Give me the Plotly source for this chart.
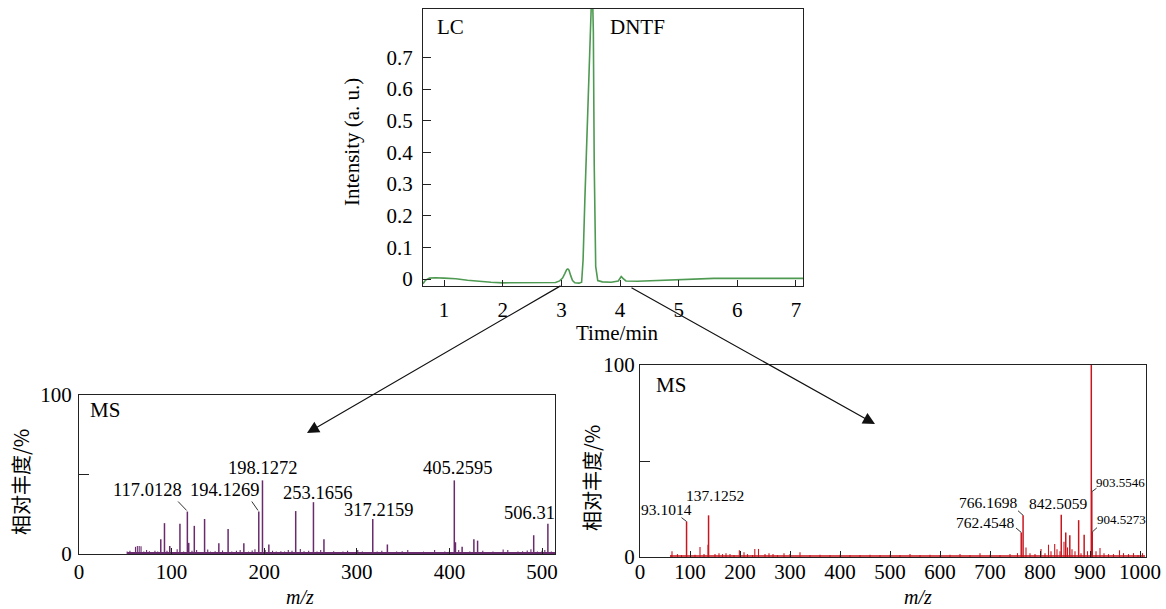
import plotly.graph_objects as go

# ---------------- data ----------------
lc_time = [0.64, 0.68, 0.75, 0.85, 1.0, 1.2, 1.4, 1.6, 1.8, 2.0, 2.2, 2.4, 2.6, 2.8, 2.9, 2.97,
           3.02, 3.06, 3.09, 3.11, 3.13, 3.16, 3.19, 3.23, 3.3, 3.345, 3.37, 3.40, 3.46, 3.505,
           3.525, 3.545, 3.56, 3.585, 3.62, 3.7, 3.85, 3.97, 4.0, 4.02, 4.05, 4.1, 4.3, 4.6,
           5.0, 5.3, 5.6, 6.0, 6.5, 7.0, 7.12]
lc_int = [-0.015, -0.004, 0.003, 0.004, 0.003, 0.001, -0.004, -0.008, -0.010, -0.012, -0.012,
          -0.013, -0.013, -0.013, -0.011, -0.006, 0.003, 0.018, 0.030, 0.032, 0.028, 0.010,
          -0.005, -0.012, -0.013, -0.010, 0.061, 0.25, 0.57, 0.82, 0.95, 0.78, 0.36, 0.04,
          -0.005, -0.009, -0.010, -0.006, 0.004, 0.008, 0.002, -0.006, -0.007, -0.005, -0.002,
          0.001, 0.002, 0.002, 0.002, 0.002, 0.002]
lc_yticks = [0, 0.1, 0.2, 0.3, 0.4, 0.5, 0.6, 0.7]
lc_xticks = [1, 2, 3, 4, 5, 6, 7]

ms1_mz = [88.3, 92.3, 98, 109, 117.0128, 118.5, 124.5, 135.6, 151, 161, 178, 194.1269, 198.1272,
          205, 234, 253.1656, 264.5, 317.2159, 333, 405.2595, 406.5, 413.7, 426.4, 430.4, 491,
          506.31]
ms1_int = [9.3, 19.4, 5, 19, 26.7, 7, 17.7, 22, 6.7, 15.8, 6.7, 26.7, 46.3, 6, 27, 32.6, 9.3,
           22, 6, 46.3, 7.4, 4.6, 9.3, 8.4, 11.8, 19]
ms1_noise = [(52, 1.5), (55, 2), (58, 1.2), (61, 4.5), (63, 5), (65, 5), (67, 4.8), (70, 1.5),
             (73, 2.5), (76, 1.8), (79, 1), (82, 2), (85, 1.5), (95, 2), (103, 1.2), (106, 3),
             (113, 1.5), (122, 2), (127, 2.5), (130, 1.2), (139, 2.8), (142, 1.5), (147, 1.8),
             (155, 2.2), (158, 1), (165, 1.5), (170, 2), (174, 2.5), (183, 1.5), (187, 2.2),
             (190, 3), (201, 2.5), (209, 2), (213, 1.5), (218, 1.8), (222, 1.5), (226, 2.5),
             (230, 2), (239, 3.2), (243, 1.8), (248, 2), (257, 1.5), (261, 2.5), (270, 1.2),
             (275, 1.8), (280, 1.2), (285, 1.5), (290, 2), (296, 1.2), (301, 2.5), (306, 1.5),
             (311, 1.2), (322, 1.5), (327, 2), (338, 1.2), (343, 1.5), (349, 1.8), (355, 2.5),
             (360, 1.2), (366, 1), (372, 1.5), (378, 1.2), (384, 2.5), (390, 1.2), (395, 1.5),
             (400, 1.8), (410, 2.5), (418, 1.2), (422, 1.5), (436, 2), (441, 1.2), (447, 1.5),
             (452, 1.2), (458, 2.8), (463, 2.5), (468, 1.2), (474, 1.5), (479, 1.8), (484, 2.2),
             (488, 3), (495, 1.5), (500, 2), (503, 2.5), (510, 1.5)]
ms1_xticks = [0, 100, 200, 300, 400, 500]

ms2_mz = [93.1014, 137.1252, 762.4548, 766.1698, 842.5059, 851.5, 859.6, 877.3, 888.3,
          902.5713, 903.5546, 904.5273]
ms2_int = [18.5, 21.7, 12.8, 21.7, 22, 12.8, 11.3, 19.2, 11.6, 100, 34, 13]
ms2_noise = [(62, 1), (64, 3), (75, 1.5), (83, 1), (110, 1.2), (120, 5.2), (128, 1.5), (136, 6.4),
             (150, 1.5), (158, 2), (165, 1.5), (172, 2), (180, 1.5), (188, 1), (198.7, 3.5),
             (208, 2.5), (215, 1.5), (225, 1), (229.6, 4.2), (237, 4.2), (250, 1.5), (258, 2),
             (266, 1.5), (275, 1), (288, 2), (300, 1.5), (320, 2.5), (340, 1), (360, 1.2),
             (380, 1), (400, 1.2), (420, 1), (440, 1), (460, 1.2), (480, 1), (500, 1.2),
             (520, 1), (540, 1.5), (560, 1), (580, 1.2), (600, 1), (620, 1.2), (640, 1.5),
             (660, 1), (680, 2), (700, 1.2), (720, 1), (740, 1.5), (755, 2), (772, 5),
             (780, 2), (790, 1.5), (802, 4.2), (810, 2), (817, 6.4), (822, 3), (829.4, 6.8),
             (834, 4), (840, 3), (848, 8), (855, 5), (864, 4), (870, 3), (882, 2), (895, 3),
             (912, 3), (920, 4.7), (928, 2), (937, 1.5), (947, 1.5), (959, 3.5), (967, 2),
             (977, 1.5), (987, 2), (996, 1), (1005, 2)]
ms_xticks2 = [0, 100, 200, 300, 400, 500, 600, 700, 800, 900, 1000]
ms_yticks = [0, 50, 100]
ms_yticktext = ["0", "", "100"]

# ---------------- style ----------------
W, H = 1166, 609
SERIF = "Liberation Serif, Times New Roman, serif"
CJK = "Noto Sans CJK SC"
AX = "#222222"
GREEN = "#4f9a52"
PURPLE = "#6a2b6e"
RED = "#c8161e"


def px(x):
    return x / W


def py(y):
    return 1 - y / H


def sticks(mz, inten):
    xs, ys = [], []
    for m, i in zip(mz, inten):
        xs += [m, m, None]
        ys += [0, i, None]
    return xs, ys


fig = go.Figure()

fig.add_trace(go.Scatter(x=lc_time, y=lc_int, mode="lines", line=dict(color=GREEN, width=1.6),
                         xaxis="x", yaxis="y", hoverinfo="skip"))

n1x = [p[0] for p in ms1_noise]
n1y = [p[1] for p in ms1_noise]
sx, sy = sticks(n1x, n1y)
fig.add_trace(go.Scatter(x=sx, y=sy, mode="lines", line=dict(color=PURPLE, width=1.1),
                         xaxis="x2", yaxis="y2"))
fig.add_trace(go.Scatter(x=[n1x[0], n1x[-1] + 4], y=[0.6, 0.6], mode="lines",
                         line=dict(color=PURPLE, width=2.2), xaxis="x2", yaxis="y2"))
sx, sy = sticks(ms1_mz, ms1_int)
fig.add_trace(go.Scatter(x=sx, y=sy, mode="lines", line=dict(color=PURPLE, width=1.5),
                         xaxis="x2", yaxis="y2"))

n2x = [p[0] for p in ms2_noise]
n2y = [p[1] for p in ms2_noise]
sx, sy = sticks(n2x, n2y)
fig.add_trace(go.Scatter(x=sx, y=sy, mode="lines", line=dict(color=RED, width=1.1),
                         xaxis="x3", yaxis="y3"))
fig.add_trace(go.Scatter(x=[60, 1010], y=[0.5, 0.5], mode="lines",
                         line=dict(color=RED, width=1.5), xaxis="x3", yaxis="y3"))
sx, sy = sticks(ms2_mz, ms2_int)
fig.add_trace(go.Scatter(x=sx, y=sy, mode="lines", line=dict(color=RED, width=1.5),
                         xaxis="x3", yaxis="y3"))

axis_common = dict(showline=True, mirror=True, linecolor=AX, linewidth=1, ticks="inside",
                   tickcolor=AX, tickwidth=1, showgrid=False, zeroline=False, automargin=False,
                   tickfont=dict(family=SERIF, size=21, color="black"))

fig.update_layout(
    template="none",
    width=W, height=H, autosize=False, margin=dict(l=0, r=0, t=0, b=0, pad=0),
    paper_bgcolor="white", plot_bgcolor="white", showlegend=False,
    xaxis=dict(domain=[px(423), px(803)], range=[0.64, 7.12], tickvals=lc_xticks, ticklen=6,
               ticklabelstandoff=5, anchor="y", **axis_common),
    yaxis=dict(domain=[py(286), py(9)], range=[-0.022, 0.853], tickvals=lc_yticks,
               ticktext=["0" if v == 0 else f"{v:.1f}" for v in lc_yticks], ticklen=8,
               ticklabelstandoff=5, anchor="x", **axis_common),
    xaxis2=dict(domain=[px(79), px(555)], range=[0, 514], tickvals=ms1_xticks, ticklen=6,
                ticklabelstandoff=-1, anchor="y2", **axis_common),
    yaxis2=dict(domain=[py(554), py(395)], range=[0, 100], tickvals=ms_yticks,
                ticktext=ms_yticktext, ticklen=10, ticklabelstandoff=2, anchor="x2",
                **axis_common),
    xaxis3=dict(domain=[px(640), px(1146)], range=[0, 1012], tickvals=ms_xticks2, ticklen=6,
                ticklabelstandoff=-4, anchor="y3", **axis_common),
    yaxis3=dict(domain=[py(557), py(365)], range=[0, 100], tickvals=ms_yticks,
                ticktext=ms_yticktext, ticklen=10, anchor="x3", **axis_common),
)

ann = []


def txt(text, x, y, xref="paper", yref="paper", size=21, family=SERIF, xanchor="center",
        yanchor="middle", angle=0, italic=False):
    ann.append(dict(text=f"<i>{text}</i>" if italic else text, x=x, y=y, xref=xref, yref=yref,
                    showarrow=False, xanchor=xanchor, yanchor=yanchor, textangle=angle,
                    font=dict(family=family, size=size, color="black")))


# axis titles & panel tags
txt("Intensity (a. u.)", px(352), py(142), angle=-90)
txt("Time/min", px(617), py(333))
txt("相对丰度/%", px(20), py(482), family=CJK, size=20, angle=-90)
txt("相对丰度/%", px(591), py(478), family=CJK, size=20, angle=-90)
txt("m/z", px(300), py(597), size=20, italic=True)
txt("m/z", px(918), py(597), size=20, italic=True)
txt("LC", px(435), py(27), xanchor="left")
txt("DNTF", px(608), py(27), xanchor="left")
txt("MS", px(88), py(410), xanchor="left")
txt("MS", px(654), py(385), xanchor="left")

# peak labels, left MS
for t, x, y in [("117.0128", 73.6, 40.4), ("194.1269", 156.7, 40.4), ("198.1272", 197.7, 54),
                ("253.1656", 257, 38.3), ("317.2159", 323.8, 27.8), ("405.2595", 409, 54),
                ("506.31", 486, 25.7)]:
    txt(t, x, y, xref="x2", yref="y2", size=18.5)

# peak labels, right MS
for t, x, y, s, xa in [("902.5713", 910, 104.3, 15.5, "center"), ("903.5546", 908, 38.8, 13, "left"),
                       ("904.5273", 909, 19.4, 13, "left"), ("93.1014", 53, 25, 15.5, "center"),
                       ("137.1252", 150.8, 32, 15.5, "center"), ("766.1698", 695.5, 28.6, 15.5, "center"),
                       ("762.4548", 689.6, 18.2, 15.5, "center"), ("842.5059", 836.8, 27.7, 15.5, "center")]:
    txt(t, x, y, xref="x3", yref="y3", size=s, xanchor=xa)

# arrows from LC to the MS panels
for tail, tip in [((562, 285), (307, 433)), ((630, 287), (875, 424))]:
    ann.append(dict(x=px(tip[0]), y=py(tip[1]), ax=tail[0] - tip[0], ay=tail[1] - tip[1],
                    xref="paper", yref="paper", axref="pixel", ayref="pixel", showarrow=True,
                    arrowhead=2, arrowsize=2, arrowwidth=1.2, arrowcolor="#111111", text=""))

fig.update_layout(annotations=ann)

# leader lines
shapes = []
for xr, yr, seg in [("x2", "y2", (107, 33, 116.2, 27.4)), ("x2", "y2", (186.6, 33, 193.3, 27.4)),
                    ("x3", "y3", (83, 20.5, 93.1, 18.5)), ("x3", "y3", (752, 15.1, 762.45, 12.8)),
                    ("x3", "y3", (756, 24.1, 766.2, 21.7)), ("x3", "y3", (903.5, 34, 913, 35.8)),
                    ("x3", "y3", (904.5, 13, 914, 15.3))]:
    shapes.append(dict(type="line", xref=xr, yref=yr, x0=seg[0], y0=seg[1], x1=seg[2], y1=seg[3],
                       line=dict(color="#333333", width=1)))
fig.update_layout(shapes=shapes)

fig.write_html("out.html")
